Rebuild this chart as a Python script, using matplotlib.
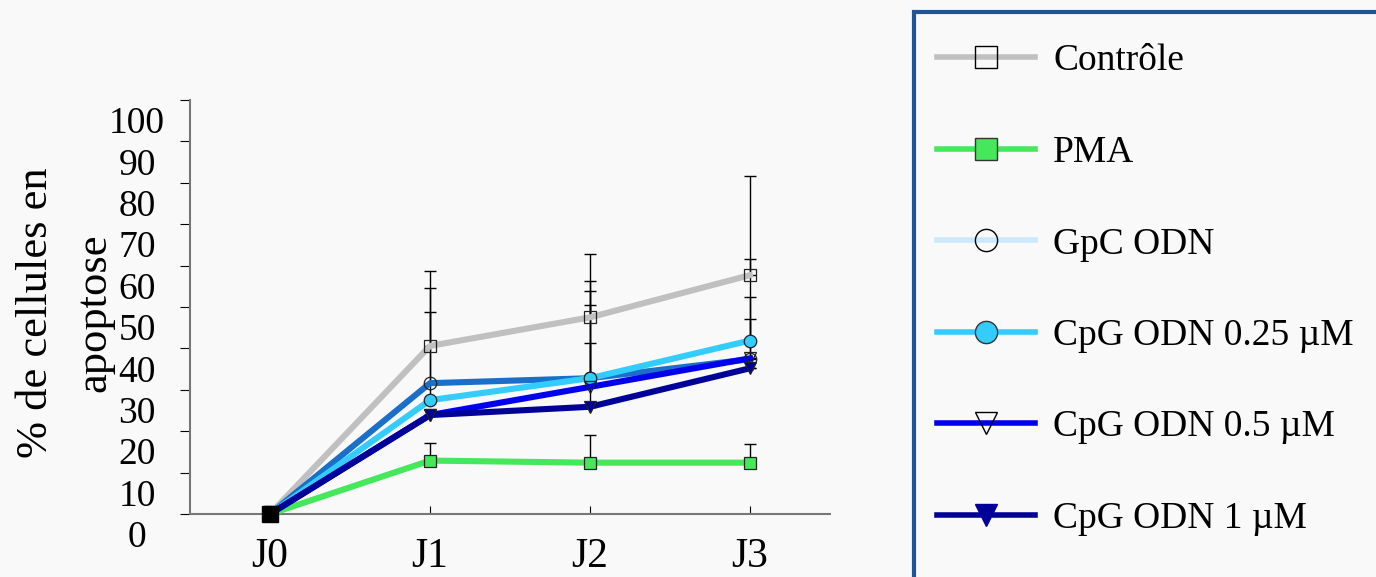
import matplotlib
matplotlib.use('Agg')
import matplotlib.pyplot as plt
import matplotlib.transforms as mtransforms
from matplotlib.lines import Line2D
from matplotlib.patches import Rectangle

# data
days = ['J0', 'J1', 'J2', 'J3']
controle = [0, 40.6, 47.5, 57.7]
controle_err = [2, 18.0, 15.2, 24.0]
pma = [0, 12.9, 12.4, 12.4]
pma_err = [0, 4.2, 6.8, 4.5]
gpc = [0, 31.6, 32.8, 37.4]
gpc_err = [0, 22.9, 23.6, 14.9]
cpg025 = [0, 27.5, 32.8, 41.9]
cpg025_err = [0, 21.2, 21.1, 19.6]
cpg05 = [0, 23.9, 30.7, 37.6]
cpg05_err = [0, 0, 19.9, 9.4]
cpg1 = [0, 23.9, 25.9, 35.2]
cpg1_err = [0, 0, 15.3, 0]
yticks = [0, 10, 20, 30, 40, 50, 60, 70, 80, 90, 100]
legend_labels = ['Contrôle', 'PMA', 'GpC ODN', 'CpG ODN 0.25 µM', 'CpG ODN 0.5 µM', 'CpG ODN 1 µM']

serif = ['Liberation Serif', 'DejaVu Serif']
bg = '#f9f9f9'

fig = plt.figure(figsize=(13.76, 5.77), dpi=100, facecolor=bg)
ax = fig.add_axes([190/1376, 63/577, 640/1376, 414/577])
ax.set_facecolor(bg)

x = list(range(len(days)))

# (values, errors, line colour, marker, marker face)
series = [
    (pma, pma_err, '#44e85a', 's', '#44e85a'),
    (controle, controle_err, '#c0c0c0', 's', 'none'),
    (gpc, gpc_err, '#1a70c8', 'o', 'none'),
    (cpg025, cpg025_err, '#33ccff', 'o', '#33ccff'),
    (cpg05, cpg05_err, '#0000ee', 'v', 'none'),
    (cpg1, cpg1_err, '#000099', 'v', '#000099'),
]

for vals, err, col, mk, fc in series:
    ax.errorbar(x, vals, yerr=[[0]*len(err), err], fmt='none', ecolor='black',
                elinewidth=1.0, capsize=4.5, capthick=1.0, zorder=2)

for vals, err, col, mk, fc in series:
    ax.plot(x, vals, color=col, lw=4.4, marker=mk, markersize=9,
            markerfacecolor=fc, markeredgecolor='#222222', markeredgewidth=0.9, zorder=3)

# J0 starting point
ax.plot(x[0], controle[0], marker='s', color='black', markersize=11, zorder=4, clip_on=False)

ax.set_xlim(-0.5, 3.5)
ax.set_ylim(0, 100)
ax.set_xticks(x)
ax.set_xticklabels(days, fontsize=30, family=serif)
ax.set_yticks(yticks)
ax.set_yticklabels([str(v) for v in yticks], fontsize=27, family=serif, ha='center')
ax.tick_params(axis='x', direction='in', length=6, width=0.8, pad=17)
ax.tick_params(axis='y', direction='out', length=7, width=0.8, pad=31, color='black')
for lab in ax.get_yticklabels():
    lab.set_transform(lab.get_transform() + mtransforms.ScaledTranslation(0, -0.2, fig.dpi_scale_trans))

for s in ['top', 'right']:
    ax.spines[s].set_visible(False)
for s in ['left', 'bottom']:
    ax.spines[s].set_color('#777777')
    ax.spines[s].set_linewidth(1.5)

fig.text(36/1376, 1 - 313/577, '% de cellules en', rotation=90, fontsize=32,
         family=serif, ha='center', va='center')
fig.text(94/1376, 1 - 313/577, 'apoptose', rotation=90, fontsize=32,
         family=serif, ha='center', va='center')

# legend box
fig.patches.append(Rectangle((914/1376, -0.05), 0.5, 1 - 12/577 + 0.05,
                             transform=fig.transFigure, facecolor='none',
                             edgecolor='#1f5596', lw=3))

handles = [
    Line2D([], [], color='#c0c0c0', lw=4, marker='s', markersize=16, markerfacecolor='none', markeredgecolor='black'),
    Line2D([], [], color='#44e85a', lw=4, marker='s', markersize=16, markerfacecolor='#44e85a', markeredgecolor='#333333'),
    Line2D([], [], color='#cce9fa', lw=4, marker='o', markersize=16, markerfacecolor='none', markeredgecolor='black'),
    Line2D([], [], color='#33ccff', lw=4, marker='o', markersize=16, markerfacecolor='#33ccff', markeredgecolor='#333333'),
    Line2D([], [], color='#0000ee', lw=4, marker='v', markersize=16, markerfacecolor='none', markeredgecolor='black'),
    Line2D([], [], color='#000099', lw=4, marker='v', markersize=16, markerfacecolor='#000099', markeredgecolor='#000099'),
]
fig.legend(handles, legend_labels, loc='upper left', bbox_to_anchor=(937/1376, 1 - 44/577),
           frameon=False, prop={'family': serif, 'size': 27}, handlelength=2.6,
           handletextpad=0.5, labelspacing=1.52, borderpad=0, borderaxespad=0)

fig.savefig('out.png', dpi=100, facecolor=bg)
